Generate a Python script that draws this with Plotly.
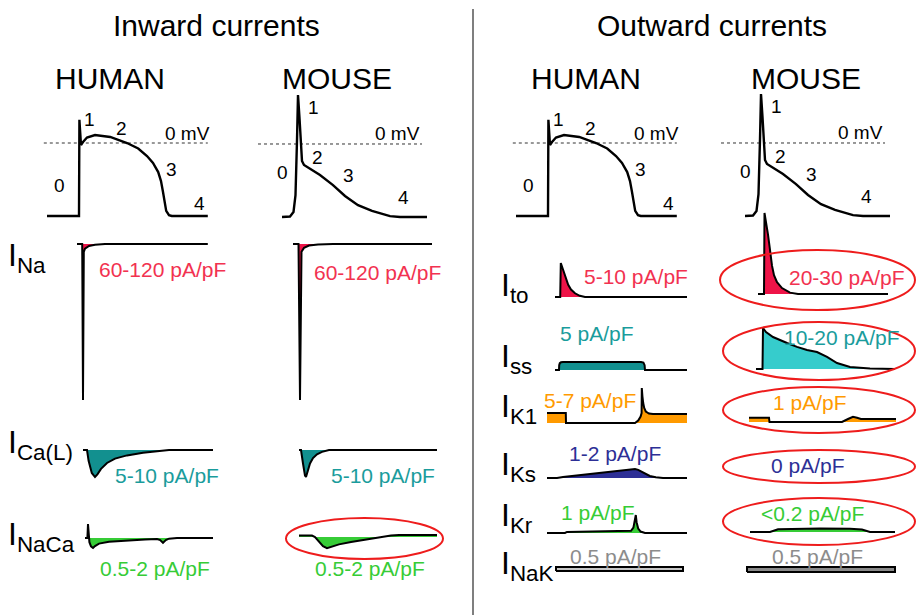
import plotly.graph_objects as go

W, H = 916, 615
FONT = "Arial, Liberation Sans, sans-serif"

# ---------------- action potentials: time (ms), membrane potential (mV)
human_ap_t = [0, 80, 81, 85, 90, 100, 120, 158, 200, 228, 250, 265, 278, 285, 290, 294, 298, 305, 312, 402]
human_ap_v = [-85, -85, 27, -2.3, 1.1, 6.4, 9.3, 7, 0, -6.4, -15.2, -23.3, -33.8, -44.3, -57, -70, -79, -84, -85, -85]
mouse_ap_t = [0, 8, 11.5, 13.5, 15, 16, 17.5, 19, 20, 22, 28, 38, 51, 63, 76, 90, 108, 118, 145]
mouse_ap_v = [-80, -79.5, -74.5, -56, 4, 53.7, 28.5, -6.6, -18.6, -23, -27.4, -34, -45, -57, -67, -73.4, -79, -80, -80]

# 0 mV reference line span (ms)
human_zero_t = [-8, 402]
mouse_zero_t = [-24, 140]

# phase numbers and where they sit (ms, mV)
phase_labels = ["0", "1", "2", "3", "4"]
human_phase_t = [30, 107, 187, 312, 380]
human_phase_v = [-50, 27, 17, -31, -70]
mouse_phase_t = [0, 31, 35, 66, 121]
mouse_phase_v = [-31, 40, -15, -34, -59]
human_mv_label = (350, 11.6)
mouse_mv_label = (115, 12)

# ---------------- membrane currents: time (ms), current density (pA/pF, outward > 0)
ina_h_t = [0, 13, 15, 17, 20, 30, 45, 70, 327]
ina_h_i = [0, 0, -120, -6, -3.5, -1.5, -0.5, 0, 0]
ina_m_t = [0, 5.5, 7, 8.5, 11, 16, 25, 40, 139]
ina_m_i = [0, 0, -120, -6, -3, -1.2, -0.3, 0, 0]

ical_h_t = [0, 10, 14, 22, 30, 36, 45, 60, 80, 110, 150, 200, 215, 325]
ical_h_i = [0, 0, -4, -8.5, -10, -9, -7, -4.8, -3.2, -2, -1, -0.2, 0, 0]
ical_m_t = [0, 2, 4, 6, 7, 9, 11, 14, 18, 23, 30, 138]
ical_m_i = [0, 0, -5, -9.5, -10, -7.5, -5, -3, -1.6, -0.7, 0, 0]

inaca_h_t = [0, 6, 7.5, 9, 11, 15, 20, 25, 35, 60, 100, 150, 180, 188, 195, 202, 210, 230, 320]
inaca_h_i = [0, 0, 2.0, 0, -0.6, -1.2, -1.43, -1.15, -0.8, -0.55, -0.38, -0.22, -0.15, -0.3, -0.7, -0.3, -0.1, 0, 0]
inaca_m_t = [0, 13, 16, 20, 24, 28, 31, 40, 52, 65, 78, 84, 92, 100, 138]
inaca_m_i = [0.2, 0.2, 0, -0.6, -1.3, -1.6, -1.45, -1.05, -0.7, -0.4, -0.12, 0, 0.2, 0.28, 0.3]

ito_h_t = [0, 13, 14.5, 18, 22, 27, 33, 40, 50, 62, 75, 330]
ito_h_i = [0, 0, 10, 8.8, 7.2, 5.3, 3.6, 2.2, 1.1, 0.35, 0, 0]
ito_m_t = [0, 6, 6.5, 8, 10, 12, 14, 16, 19, 24, 32, 40, 130]
ito_m_i = [0, 0, 30, 27, 22, 16.3, 10.5, 7, 4.4, 2.2, 0.5, 0, 0]

iss_h_t = [0, 10, 10.5, 12, 15, 20, 215, 221, 224, 225, 330]
iss_h_i = [0, 0, 3, 4.3, 4.8, 5, 5, 4.6, 3, 0, 0]
iss_m_t = [0, 6.5, 7, 10, 17, 24, 31, 41, 51, 61, 71, 81, 94, 114, 139]
iss_m_i = [0, 0, 20, 18, 15.6, 14, 12.7, 10.8, 9.3, 8.3, 5.9, 2.9, 1, 0.3, 0]

ik1_h_t = [0, 47, 47.5, 220, 228, 234, 236.5, 237, 238.5, 240.5, 243, 247, 255, 265, 350]
ik1_h_i = [2, 2, 0, 0, 0.5, 1.3, 2, 7, 5.4, 4, 3, 2.3, 1.9, 1.8, 1.8]
ik1_m_t = [0, 20, 20.5, 93, 99, 104, 108, 112, 147]
ik1_m_i = [0.85, 0.85, 0, 0, 0.6, 1.05, 0.85, 0.62, 0.6]

iks_h_t = [0, 25, 40, 75, 120, 160, 200, 220, 228, 237, 247, 257, 272, 290, 350]
iks_h_i = [0, 0, 0.2, 0.55, 0.95, 1.35, 1.75, 2, 1.8, 1.35, 0.85, 0.45, 0.15, 0, 0]

ikr_h_t = [0, 45, 50, 100, 200, 210, 216, 220, 222, 224, 228, 234, 245, 350]
ikr_h_i = [0, 0, 0.06, 0.07, 0.08, 0.12, 0.3, 0.7, 1.0, 0.6, 0.25, 0.08, 0, 0]
ikr_m_t = [0, 20, 28, 40, 70, 100, 112, 120, 145]
ikr_m_i = [0, 0, 0.14, 0.16, 0.18, 0.16, 0.12, 0, 0]

inak_h_t = [0, 0, 317.5, 317.5, 0]
inak_h_i = [0, 0.5, 0.5, 0, 0]
inak_m_t = [0, 0, 148, 148, 0]
inak_m_i = [0, 0.5, 0.5, 0, 0]

# ---------------- text
inward_rows = ["I<sub>Na</sub>", "I<sub>Ca(L)</sub>", "I<sub>NaCa</sub>"]
inward_human_density = ["60-120 pA/pF", "5-10 pA/pF", "0.5-2 pA/pF"]
inward_mouse_density = ["60-120 pA/pF", "5-10 pA/pF", "0.5-2 pA/pF"]
outward_rows = ["I<sub>to</sub>", "I<sub>ss</sub>", "I<sub>K1</sub>", "I<sub>Ks</sub>", "I<sub>Kr</sub>", "I<sub>NaK</sub>"]
outward_human_density = ["5-10 pA/pF", "5 pA/pF", "5-7 pA/pF", "1-2 pA/pF", "1 pA/pF", "0.5 pA/pF"]
outward_mouse_density = ["20-30 pA/pF", "10-20 pA/pF", "1 pA/pF", "0 pA/pF", "<0.2 pA/pF", "0.5 pA/pF"]

RED = "#ee1448"
RED_TXT = "#f23250"
TEAL = "#12908f"
TEAL_TXT = "#1a9c9c"
CYAN = "#36cccc"
GREEN = "#36cc36"
ORANGE = "#ff9a00"
NAVY = "#2d2f96"
GREY_TXT = "#8c8c8c"

fig = go.Figure()
axis_count = [0]


def panel(t, v, x0, kx, y0, ky, extra_t=(), extra_v=()):
    """New axis pair: t=0 sits at pixel x0 (kx px per ms), value 0 at pixel y0 (ky px per unit, upward)."""
    axis_count[0] += 1
    k = axis_count[0]
    sfx = "" if k == 1 else str(k)
    ts = list(t) + list(extra_t)
    vs = list(v) + list(extra_v)
    pad = 5
    left = max(0, x0 + min(ts) * kx - pad)
    right = min(W, x0 + max(ts) * kx + pad)
    top = max(0, y0 - max(vs) * ky - pad)
    bottom = min(H, y0 - min(vs) * ky + pad)
    fig.update_layout({
        "xaxis" + sfx: dict(domain=[left / W, right / W],
                            range=[(left - x0) / kx, (right - x0) / kx],
                            anchor="y" + sfx, visible=False, fixedrange=True),
        "yaxis" + sfx: dict(domain=[1 - bottom / H, 1 - top / H],
                            range=[(y0 - bottom) / ky, (y0 - top) / ky],
                            anchor="x" + sfx, visible=False, fixedrange=True),
    })
    return "x" + sfx, "y" + sfx


def ap_panel(t, v, zero_t, phase_t, phase_v, mv_label, x0, kx, y0, ky):
    xa, ya = panel(t, v, x0, kx, y0, ky, extra_t=zero_t, extra_v=[0])
    fig.add_trace(go.Scatter(x=zero_t, y=[0, 0], mode="lines", xaxis=xa, yaxis=ya,
                             line=dict(color="#333333", width=1, dash="dot"),
                             hoverinfo="skip", showlegend=False))
    fig.add_trace(go.Scatter(x=t, y=v, mode="lines", xaxis=xa, yaxis=ya,
                             line=dict(color="black", width=2.4),
                             hoverinfo="skip", showlegend=False))
    for lab, pt, pv in zip(phase_labels, phase_t, phase_v):
        fig.add_annotation(x=pt, y=pv, xref=xa, yref=ya, text=lab, showarrow=False,
                           font=dict(size=19, color="black", family=FONT))
    fig.add_annotation(x=mv_label[0], y=mv_label[1], xref=xa, yref=ya, text="0 mV",
                       showarrow=False, font=dict(size=19, color="black", family=FONT))


def current_panel(t, i, color, x0, kx, y0, ky, closed=False):
    xa, ya = panel(t, i, x0, kx, y0, ky, extra_v=[0])
    fig.add_trace(go.Scatter(x=t, y=i, mode="lines", xaxis=xa, yaxis=ya,
                             fill="toself" if closed else "tozeroy", fillcolor=color,
                             line=dict(color="black", width=2),
                             hoverinfo="skip", showlegend=False))


# action potentials (human: 0.4 px/ms, mouse: 1 px/ms)
ap_panel(human_ap_t, human_ap_v, human_zero_t, human_phase_t, human_phase_v, human_mv_label, 47, 0.4, 143, 73 / 85)
ap_panel(mouse_ap_t, mouse_ap_v, mouse_zero_t, mouse_phase_t, mouse_phase_v, mouse_mv_label, 282, 1.0, 144, 73 / 80)
ap_panel(human_ap_t, human_ap_v, human_zero_t, human_phase_t, human_phase_v, human_mv_label, 516, 0.4, 143, 73 / 85)
ap_panel(mouse_ap_t, mouse_ap_v, mouse_zero_t, mouse_phase_t, mouse_phase_v, mouse_mv_label, 745, 1.0, 143, 73 / 80)

# inward currents
current_panel(ina_h_t, ina_h_i, RED, 77, 0.4, 244, 1.3)
current_panel(ina_m_t, ina_m_i, RED, 293, 1.0, 244, 1.3)
current_panel(ical_h_t, ical_h_i, TEAL, 83, 0.4, 450, 2.7)
current_panel(ical_m_t, ical_m_i, TEAL, 299, 1.0, 450, 2.7)
current_panel(inaca_h_t, inaca_h_i, GREEN, 85, 0.4, 538, 7)
current_panel(inaca_m_t, inaca_m_i, GREEN, 299, 1.0, 537, 7)

# outward currents
current_panel(ito_h_t, ito_h_i, RED, 555, 0.4, 297, 3.4)
current_panel(ito_m_t, ito_m_i, RED, 758, 1.0, 294, 2.7)
current_panel(iss_h_t, iss_h_i, TEAL, 555, 0.4, 370, 1.6)
current_panel(iss_m_t, iss_m_i, CYAN, 756, 1.0, 369, 2.05)
current_panel(ik1_h_t, ik1_h_i, ORANGE, 547, 0.4, 423, 5)
current_panel(ik1_m_t, ik1_m_i, ORANGE, 749, 1.0, 422, 5)
current_panel(iks_h_t, iks_h_i, NAVY, 547, 0.4, 478, 4.5)
current_panel(ikr_h_t, ikr_h_i, GREEN, 547, 0.4, 533, 18)
current_panel(ikr_m_t, ikr_m_i, GREEN, 750, 1.0, 532, 20)
current_panel(inak_h_t, inak_h_i, "#c6c6c6", 556, 0.4, 571, 8, closed=True)
current_panel(inak_m_t, inak_m_i, "#8a8a8a", 747, 1.0, 572, 10, closed=True)


def txt(px, py, text, size, color="black", xanchor="center"):
    fig.add_annotation(x=px / W, y=1 - py / H, xref="paper", yref="paper", text=text,
                       showarrow=False, xanchor=xanchor, yanchor="middle",
                       font=dict(size=size, color=color, family=FONT))


# headings
txt(216, 25, "Inward currents", 30)
txt(712, 25, "Outward currents", 30)
for cx, lab in zip([110, 337, 586, 806], ["HUMAN", "MOUSE", "HUMAN", "MOUSE"]):
    txt(cx, 78, lab, 30)

# row names
for py, lab in zip([258, 444, 536], inward_rows):
    txt(6, py, lab, 32, xanchor="left")
for py, lab in zip([287, 358, 408, 466, 517, 565], outward_rows):
    txt(499, py, lab, 32, xanchor="left")

# current densities
inward_colors = [RED_TXT, TEAL_TXT, GREEN]
for (hx, hy), (mx, my), th, tm, c in zip([(162, 270), (167, 475), (155, 568)],
                                         [(377, 273), (383, 475), (370, 568)],
                                         inward_human_density, inward_mouse_density, inward_colors):
    txt(hx, hy, th, 21, c)
    txt(mx, my, tm, 21, c)

outward_colors = [RED_TXT, TEAL_TXT, ORANGE, NAVY, GREEN, GREY_TXT]
for (hx, hy), (mx, my), th, tm, c in zip([(636, 276), (597, 333), (590, 401), (615, 453), (598, 512), (615, 556)],
                                         [(847, 277), (842, 337), (810, 402), (808, 465), (812, 513), (817, 556)],
                                         outward_human_density, outward_mouse_density, outward_colors):
    txt(hx, hy, th, 21, c)
    txt(mx, my, tm, 21, c)

# highlighted species differences
ellipses = [(286, 518, 443, 559), (720, 250, 915, 310), (723, 322, 915, 380),
            (723, 387, 915, 433), (723, 450, 915, 483), (723, 498, 915, 545)]
for x0, y0, x1, y1 in ellipses:
    fig.add_shape(type="circle", xref="paper", yref="paper",
                  x0=x0 / W, x1=x1 / W, y0=1 - y1 / H, y1=1 - y0 / H,
                  line=dict(color="#ee1c1c", width=2))

# divider between inward and outward
fig.add_shape(type="line", xref="paper", yref="paper", x0=473 / W, x1=473 / W,
              y0=0, y1=1 - 9 / H, line=dict(color="#555555", width=1.5))

fig.update_layout(width=W, height=H, margin=dict(l=0, r=0, t=0, b=0),
                  paper_bgcolor="white", plot_bgcolor="rgba(0,0,0,0)",
                  showlegend=False)

fig.write_html("out.html")
